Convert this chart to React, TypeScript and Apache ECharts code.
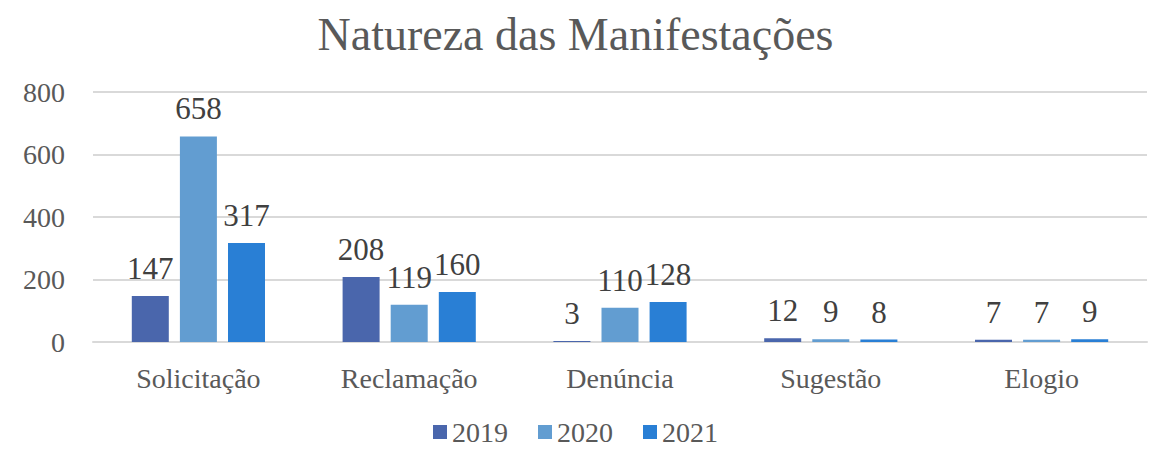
import React, { useEffect, useRef } from "react";
import * as echarts from "echarts";

const categories = ["Solicitação", "Reclamação", "Denúncia", "Sugestão", "Elogio"];
const years = ["2019", "2020", "2021"];
const values2019 = [147, 208, 3, 12, 7];
const values2020 = [658, 119, 110, 9, 7];
const values2021 = [317, 160, 128, 8, 9];
const yTicks = { min: 0, max: 800, interval: 200 };
const colors = ["#4A66AC", "#629DD1", "#297FD5"];

const FONT = "Liberation Serif";

export default function App() {
  const ref = useRef<HTMLDivElement>(null);
  useEffect(() => {
    if (!ref.current) return;
    const chart = echarts.init(ref.current, undefined, { renderer: "svg" });
    const seriesData = [values2019, values2020, values2021];
    chart.setOption({
      animation: false,
      backgroundColor: "#ffffff",
      textStyle: { fontFamily: FONT },
      title: {
        text: "Natureza das Manifestações",
        left: "center",
        top: 6,
        textStyle: { fontFamily: FONT, fontSize: 46, fontWeight: "normal", color: "#595959" },
      },
      legend: {
        top: 413,
        left: "center",
        itemWidth: 14,
        itemHeight: 14,
        itemGap: 30,
        icon: "rect",
        textStyle: { fontFamily: FONT, fontSize: 28, color: "#595959", padding: [0, 0, 0, 0] },
        data: years,
      },
      grid: { left: 93, right: 4, top: 92, bottom: 108, containLabel: false },
      xAxis: {
        type: "category",
        data: categories,
        axisLine: { show: true, lineStyle: { color: "#d9d9d9", width: 2 } },
        axisTick: { show: false },
        axisLabel: { fontFamily: FONT, fontSize: 28, color: "#595959", margin: 22 },
      },
      yAxis: {
        type: "value",
        min: yTicks.min,
        max: yTicks.max,
        interval: yTicks.interval,
        axisLine: { show: false },
        axisTick: { show: false },
        splitLine: { lineStyle: { color: "#d9d9d9", width: 2 } },
        axisLabel: { fontFamily: FONT, fontSize: 28, color: "#595959", margin: 28 },
      },
      series: years.map((y, i) => ({
        name: y,
        type: "bar",
        data: seriesData[i],
        barWidth: 37,
        barGap: "30%",
        itemStyle: { color: colors[i] },
        label: {
          show: true,
          position: "top",
          distance: 12,
          fontFamily: FONT,
          fontSize: 31,
          color: "#404040",
        },
      })),
    });
    return () => chart.dispose();
  }, []);
  return (
    <div
      ref={ref}
      style={{ position: "fixed", left: 0, top: 0, width: 1151, height: 450 }}
    />
  );
}
